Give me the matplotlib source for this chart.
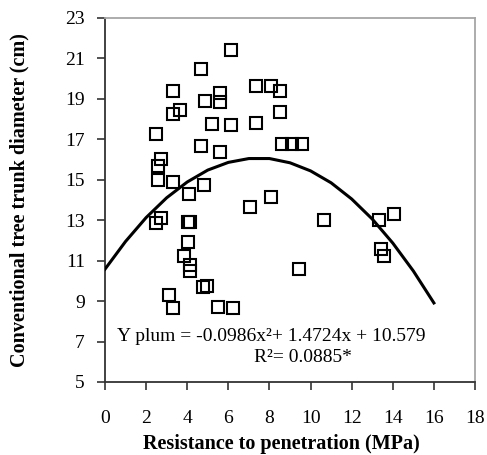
import matplotlib
matplotlib.use("Agg")
import matplotlib.pyplot as plt
import numpy as np

plt.rcParams['font.family'] = ['Liberation Serif', 'DejaVu Serif']

# resistance to penetration (MPa) vs trunk diameter (cm)
resistance = [6.13, 4.67, 3.29, 5.59, 5.59, 4.86, 7.34, 8.07, 8.53, 8.53,
              3.65, 3.29, 5.22, 6.13, 7.33, 2.47, 4.67, 5.59, 8.62, 9.12,
              9.57, 2.72, 2.56, 2.56, 3.29, 4.83, 4.10, 8.07, 7.05, 2.72,
              2.47, 4.02, 4.15, 4.02, 3.86, 4.13, 4.13, 4.78, 4.95, 3.11,
              3.29, 5.51, 6.24, 10.67, 13.33, 14.06, 13.42, 13.59, 9.45]
diameter = [21.42, 20.48, 19.39, 19.28, 18.86, 18.91, 19.64, 19.64, 19.39, 18.34,
            18.45, 18.25, 17.77, 17.69, 17.79, 17.25, 16.69, 16.37, 16.75, 16.75,
            16.75, 16.01, 15.68, 14.98, 14.90, 14.72, 14.30, 14.16, 13.67, 13.09,
            12.85, 12.93, 12.93, 11.94, 11.25, 10.78, 10.50, 9.68, 9.75, 9.30,
            8.64, 8.72, 8.64, 13.01, 13.01, 13.31, 11.58, 11.25, 10.58]

# trendline
trend_x = [0, 1, 2, 3, 4, 5, 6, 7, 8, 9, 10, 11, 12, 13, 14, 15, 16]
trend_y = [10.58, 11.95, 13.13, 14.11, 14.89, 15.48, 15.86, 16.05, 16.05,
           15.84, 15.44, 14.85, 14.05, 13.06, 11.87, 10.49, 8.91]

xticks = [0, 2, 4, 6, 8, 10, 12, 14, 16, 18]
yticks = [5, 7, 9, 11, 13, 15, 17, 19, 21, 23]

fig = plt.figure(figsize=(4.87, 4.55), dpi=100)
ax = fig.add_axes([105/487, 1 - 382/455, 370/487, 364/455])

ax.plot(resistance, diameter, ls='none', marker='s', ms=8, mew=1.5,
        mfc='none', mec='black', zorder=2)
ax.plot(trend_x, trend_y, color='black', lw=2.2, zorder=3)

ax.set_xlim(0, 18)
ax.set_ylim(5, 23)
ax.set_xticks(xticks)
ax.set_yticks(yticks)
ax.tick_params(axis='both', direction='out', length=5.5, width=1.2,
               labelsize=14, color='#333333')
ax.tick_params(axis='x', pad=15)
ax.tick_params(axis='y', pad=9)

for s in ['top', 'right']:
    ax.spines[s].set_color('#a6a6a6')
    ax.spines[s].set_linewidth(1.3)
for s in ['left', 'bottom']:
    ax.spines[s].set_color('#333333')
    ax.spines[s].set_linewidth(1.3)

ax.set_xlabel('Resistance to penetration (MPa)', fontsize=14.5, fontweight='bold')
ax.xaxis.set_label_coords(0.478, -0.143)
ax.set_ylabel('Conventional tree trunk diameter (cm)', fontsize=14.5, fontweight='bold')
ax.yaxis.set_label_coords(-0.205, 0.5)

ax.text(0.58, 7.25, 'Y plum = -0.0986x\u00b2+ 1.4724x + 10.579', fontsize=14,
        va='center', ha='left')
ax.text(7.25, 6.2, 'R\u00b2= 0.0885*', fontsize=14, va='center', ha='left')

fig.savefig('out.png', dpi=100)
